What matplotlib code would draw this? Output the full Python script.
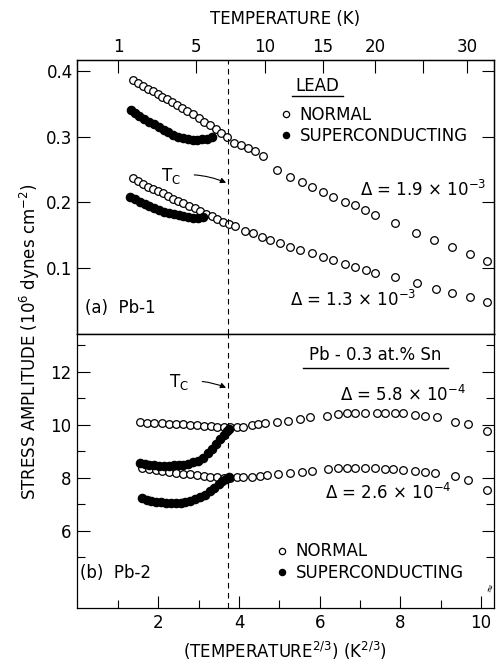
import numpy as np
import matplotlib
matplotlib.use("Agg")
import matplotlib.pyplot as plt
from matplotlib.lines import Line2D

plt.rcParams['font.family'] = ['DejaVu Sans']
plt.rcParams['mathtext.fontset'] = 'dejavusans'

# ---- data (x = T^(2/3) in K^(2/3)) ----
# (a) Pb-1, stress amplitude in 10^6 dynes/cm^2
pb1_norm_hi_x = [1.37, 1.50, 1.62, 1.74, 1.86, 1.98, 2.10, 2.22, 2.34, 2.46, 2.58, 2.72, 2.86, 3.00, 3.14,
                 3.28, 3.42, 3.56, 3.70, 3.88, 4.05, 4.22, 4.40, 4.59, 4.94, 5.26, 5.56, 5.81, 6.08, 6.34,
                 6.63, 6.87, 7.12, 7.37, 7.87, 8.39, 8.84, 9.27, 9.72, 10.15]
pb1_norm_hi_y = [0.386, 0.381, 0.377, 0.373, 0.369, 0.365, 0.361, 0.357, 0.353, 0.349, 0.344, 0.339, 0.334,
                 0.329, 0.323, 0.318, 0.312, 0.306, 0.299, 0.291, 0.287, 0.283, 0.278, 0.270, 0.249, 0.239,
                 0.231, 0.223, 0.216, 0.208, 0.201, 0.196, 0.188, 0.181, 0.169, 0.154, 0.143, 0.132, 0.121, 0.111]
pb1_norm_lo_x = [1.36, 1.49, 1.61, 1.74, 1.86, 1.98, 2.11, 2.23, 2.36, 2.49, 2.62, 2.76, 2.90, 3.04, 3.18,
                 3.32, 3.46, 3.60, 3.74, 3.90, 4.14, 4.34, 4.57, 4.76, 5.01, 5.26, 5.51, 5.81, 6.08, 6.33,
                 6.63, 6.87, 7.15, 7.37, 7.87, 8.41, 8.88, 9.28, 9.73, 10.15]
pb1_norm_lo_y = [0.237, 0.232, 0.228, 0.224, 0.221, 0.217, 0.214, 0.210, 0.206, 0.202, 0.199, 0.195, 0.191,
                 0.187, 0.183, 0.179, 0.175, 0.171, 0.168, 0.164, 0.156, 0.153, 0.147, 0.143, 0.138, 0.132,
                 0.128, 0.123, 0.117, 0.112, 0.106, 0.102, 0.097, 0.093, 0.086, 0.077, 0.069, 0.063, 0.056, 0.048]
pb1_sc_hi_x = [1.33, 1.41, 1.53, 1.65, 1.77, 1.89, 2.01, 2.13, 2.25, 2.37, 2.49, 2.61, 2.73, 2.85, 2.97, 3.09, 3.21, 3.33]
pb1_sc_hi_y = [0.341, 0.336, 0.331, 0.327, 0.323, 0.319, 0.315, 0.311, 0.307, 0.303, 0.300, 0.298, 0.296,
               0.295, 0.295, 0.296, 0.297, 0.299]
pb1_sc_lo_x = [1.29, 1.42, 1.54, 1.66, 1.78, 1.90, 2.02, 2.14, 2.26, 2.38, 2.50, 2.62, 2.74, 2.86, 2.98, 3.10]
pb1_sc_lo_y = [0.209, 0.205, 0.201, 0.198, 0.195, 0.192, 0.189, 0.186, 0.184, 0.182, 0.181, 0.179, 0.178,
               0.177, 0.177, 0.178]

# (b) Pb-2 (Pb - 0.3 at.% Sn)
pb2_norm_hi_x = [1.54, 1.72, 1.90, 2.08, 2.26, 2.44, 2.60, 2.78, 2.96, 3.14, 3.30, 3.46, 3.62, 3.78, 3.94,
                 4.09, 4.31, 4.47, 4.64, 4.94, 5.21, 5.51, 5.76, 6.18, 6.45, 6.67, 6.87, 7.12, 7.42, 7.62,
                 7.87, 8.07, 8.36, 8.61, 8.91, 9.36, 9.68, 10.15]
pb2_norm_hi_y = [10.09, 10.08, 10.07, 10.06, 10.05, 10.04, 10.02, 10.00, 9.98, 9.96, 9.94, 9.93, 9.92, 9.91,
                 9.92, 9.93, 9.98, 10.02, 10.06, 10.11, 10.15, 10.21, 10.28, 10.34, 10.40, 10.44, 10.46,
                 10.46, 10.46, 10.45, 10.43, 10.44, 10.38, 10.35, 10.31, 10.12, 10.04, 9.76]
pb2_norm_lo_x = [1.59, 1.76, 1.93, 2.10, 2.27, 2.44, 2.61, 2.78, 2.95, 3.12, 3.29, 3.46, 3.62, 3.78, 3.94,
                 4.09, 4.31, 4.52, 4.69, 4.96, 5.26, 5.56, 5.81, 6.20, 6.45, 6.67, 6.87, 7.12, 7.37, 7.62,
                 7.82, 8.07, 8.36, 8.61, 8.86, 9.36, 9.68, 10.15]
pb2_norm_lo_y = [8.38, 8.33, 8.28, 8.25, 8.22, 8.19, 8.16, 8.13, 8.10, 8.07, 8.05, 8.03, 8.01, 8.00, 8.03,
                 8.04, 8.05, 8.08, 8.11, 8.15, 8.19, 8.23, 8.26, 8.33, 8.37, 8.38, 8.38, 8.38, 8.38, 8.35,
                 8.34, 8.30, 8.26, 8.23, 8.19, 8.08, 7.93, 7.56]
pb2_sc_hi_x = [1.54, 1.66, 1.78, 1.90, 2.02, 2.14, 2.26, 2.38, 2.50, 2.62, 2.74, 2.86, 2.98, 3.10, 3.22,
               3.34, 3.44, 3.54, 3.62, 3.70, 3.75]
pb2_sc_hi_y = [8.55, 8.52, 8.50, 8.48, 8.46, 8.46, 8.46, 8.47, 8.48, 8.50, 8.53, 8.58, 8.65, 8.76, 8.92,
               9.10, 9.28, 9.45, 9.60, 9.76, 9.86]
pb2_sc_lo_x = [1.59, 1.71, 1.83, 1.95, 2.07, 2.19, 2.31, 2.43, 2.55, 2.67, 2.79, 2.91, 3.03, 3.15, 3.27,
               3.39, 3.50, 3.59, 3.67, 3.74]
pb2_sc_lo_y = [7.23, 7.18, 7.13, 7.10, 7.08, 7.06, 7.05, 7.05, 7.06, 7.09, 7.13, 7.19, 7.27, 7.37, 7.49,
               7.62, 7.75, 7.87, 7.96, 8.04]

tc_kelvin = 7.2
top_temps = [1, 5, 10, 15, 20, 25, 30]
top_labels = ['1', '5', '10', '15', '20', '', '30']

FS = 12
open_kw = dict(ls='none', marker='o', ms=5.5, mfc='white', mec='black', mew=0.9)
full_kw = dict(ls='none', marker='o', ms=6, mfc='black', mec='black', mew=0.9)

fig = plt.figure(figsize=(4.99, 6.67), dpi=100)
ax1 = fig.add_axes([0.154, 0.4993, 0.836, 0.4107])
ax2 = fig.add_axes([0.154, 0.0885, 0.836, 0.4108])

xlim = (-0.02, 10.32)
tc_x = tc_kelvin ** (2 / 3)

# ---- panel (a) ----
ax1.plot(pb1_norm_hi_x, pb1_norm_hi_y, **open_kw)
ax1.plot(pb1_norm_lo_x, pb1_norm_lo_y, **open_kw)
ax1.plot(pb1_sc_hi_x, pb1_sc_hi_y, **full_kw)
ax1.plot(pb1_sc_lo_x, pb1_sc_lo_y, **full_kw)
ax1.axvline(tc_x, color='black', ls=(0, (5, 4)), lw=0.8)
ax1.set_xlim(*xlim)
ax1.set_ylim(0, 0.4167)
ax1.set_yticks([0.1, 0.2, 0.3, 0.4])
ax1.set_yticklabels(['0.1', '0.2', '0.3', '0.4'])
ax1.tick_params(axis='y', direction='in', right=True, length=9, width=0.8, labelsize=FS, pad=3)
ax1.tick_params(axis='x', bottom=False, labelbottom=False)

ax1t = ax1.twiny()
ax1t.set_xlim(*xlim)
ax1t.set_xticks(np.array(top_temps) ** (2 / 3))
ax1t.set_xticklabels(top_labels)
ax1t.tick_params(axis='x', direction='in', length=9, width=0.8, labelsize=FS, pad=3)
ax1t.set_xlabel('TEMPERATURE (K)', fontsize=FS, labelpad=10)

ax1.text(0.576, 0.905, 'LEAD', transform=ax1.transAxes, ha='center', va='center', fontsize=FS)
ax1.add_line(Line2D([0.515, 0.637], [0.868, 0.868], transform=ax1.transAxes, color='black', lw=1))
h_n = Line2D([], [], **dict(open_kw, ms=4.5))
h_s = Line2D([], [], **dict(full_kw, ms=4.5))
ax1.legend([h_n, h_s], ['NORMAL', 'SUPERCONDUCTING'], loc='upper left', bbox_to_anchor=(0.49, 0.834),
           frameon=False, fontsize=FS, handlelength=0.6, handletextpad=0.5, labelspacing=0.2,
           borderpad=0, borderaxespad=0)
ax1.text(0.679, 0.526, r'$\Delta$ = 1.9 $\times$ 10$^{-3}$', transform=ax1.transAxes, ha='left', va='center', fontsize=FS)
ax1.text(0.511, 0.124, r'$\Delta$ = 1.3 $\times$ 10$^{-3}$', transform=ax1.transAxes, ha='left', va='center', fontsize=FS)
ax1.text(0.019, 0.095, '(a)  Pb-1', transform=ax1.transAxes, ha='left', va='center', fontsize=FS)
ax1.annotate(r'T$_{\rm C}$', xy=(tc_x - 0.05, 0.23), xytext=(2.3, 0.24), fontsize=FS,
             ha='center', va='center',
             arrowprops=dict(arrowstyle='-|>', color='black', lw=0.8, mutation_scale=8,
                             connectionstyle='arc3,rad=-0.15', shrinkA=8, shrinkB=0))

# ---- panel (b) ----
ax2.plot(pb2_norm_hi_x, pb2_norm_hi_y, **open_kw)
ax2.plot(pb2_norm_lo_x, pb2_norm_lo_y, **open_kw)
ax2.plot(pb2_sc_hi_x, pb2_sc_hi_y, **full_kw)
ax2.plot(pb2_sc_lo_x, pb2_sc_lo_y, **full_kw)
ax2.axvline(tc_x, color='black', ls=(0, (5, 4)), lw=0.8)
ax2.set_xlim(*xlim)
ax2.set_ylim(3.09, 13.43)
ax2.set_yticks([6, 8, 10, 12])
ax2.set_yticks([5, 7, 9, 11, 13], minor=True)
ax2.set_xticks([2, 4, 6, 8, 10])
ax2.set_xticks([1, 3, 5, 7, 9], minor=True)
ax2.tick_params(axis='both', which='major', direction='in', right=True, length=9, width=0.8,
                labelsize=FS, pad=4)
ax2.tick_params(axis='both', which='minor', direction='in', right=True, length=6, width=0.8)
ax2.set_xlabel(r'(TEMPERATURE$^{2/3}$) (K$^{2/3}$)', fontsize=FS, labelpad=6)

ax2.text(0.716, 0.923, 'Pb - 0.3 at.% Sn', transform=ax2.transAxes, ha='center', va='center', fontsize=FS)
ax2.add_line(Line2D([0.542, 0.890], [0.876, 0.876], transform=ax2.transAxes, color='black', lw=1))
ax2.text(0.631, 0.777, r'$\Delta$ = 5.8 $\times$ 10$^{-4}$', transform=ax2.transAxes, ha='left', va='center', fontsize=FS)
ax2.text(0.595, 0.420, r'$\Delta$ = 2.6 $\times$ 10$^{-4}$', transform=ax2.transAxes, ha='left', va='center', fontsize=FS)
ax2.legend([h_n, h_s], ['NORMAL', 'SUPERCONDUCTING'], loc='upper left', bbox_to_anchor=(0.48, 0.239),
           frameon=False, fontsize=FS, handlelength=0.6, handletextpad=0.5, labelspacing=0.2,
           borderpad=0, borderaxespad=0)
ax2.text(0.007, 0.128, '(b)  Pb-2', transform=ax2.transAxes, ha='left', va='center', fontsize=FS)
ax2.annotate(r'T$_{\rm C}$', xy=(tc_x - 0.05, 11.4), xytext=(2.5, 11.6), fontsize=FS,
             ha='center', va='center',
             arrowprops=dict(arrowstyle='-|>', color='black', lw=0.8, mutation_scale=8,
                             connectionstyle='arc3,rad=-0.15', shrinkA=8, shrinkB=0))
ax2.text(0.992, 0.075, '\u2248', transform=ax2.transAxes, ha='center', va='center', fontsize=8, rotation=70)

for ax in (ax1, ax2, ax1t):
    for s in ax.spines.values():
        s.set_linewidth(0.9)

fig.text(0.06, 0.487, r'STRESS AMPLITUDE (10$^6$ dynes cm$^{-2}$)', rotation=90,
         ha='center', va='center', fontsize=FS)

fig.savefig('out.png', dpi=100)
